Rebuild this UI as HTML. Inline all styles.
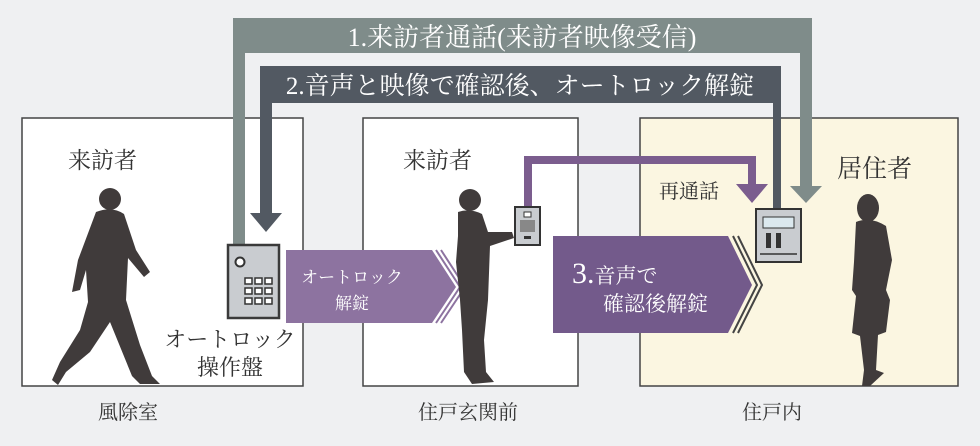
<!DOCTYPE html>
<html><head><meta charset="utf-8"><style>
html,body{margin:0;padding:0;background:#eff0f2;}
svg{display:block}
text{font-family:"Liberation Serif","Noto Serif CJK SC","Noto Sans CJK JP",serif;fill:#333;}
</style></head><body>
<svg width="980" height="446" viewBox="0 0 980 446" xmlns="http://www.w3.org/2000/svg">
<rect width="980" height="446" fill="#eff0f2"/>
<rect x="22" y="118" width="281" height="268" fill="#fff" stroke="#444" stroke-width="1.5"/>
<rect x="363" y="118" width="215" height="268" fill="#fff" stroke="#444" stroke-width="1.5"/>
<rect x="640" y="118" width="318" height="268" fill="#fbf6e1" stroke="#444" stroke-width="1.5"/>
<path d="M233 245 V18 H812 V188 H800 V30 H245 V245 Z" fill="#7f8c8a"/>
<rect x="233" y="18" width="579" height="35" fill="#7f8c8a"/>
<polygon points="790,186 822,186 806,203" fill="#7f8c8a"/>
<text x="522" y="46" font-size="26" text-anchor="middle" style="fill:#fff">1.来訪者通話(来訪者映像受信)</text>
<path d="M260 215 V66 H781 V209 H773 V103 H272 V215 Z" fill="#525962"/>
<rect x="260" y="66" width="521" height="37" fill="#525962"/>
<polygon points="250,213 282,213 266,232" fill="#525962"/>
<text x="520" y="94" font-size="25" text-anchor="middle" style="fill:#fff">2.音声と映像で確認後、オートロック解錠</text>
<path d="M524 207 V156 H756 V186 H748 V164 H532 V207 Z" fill="#7b5d8e"/>
<polygon points="736,184 768,184 752,203" fill="#7b5d8e"/>
<rect x="228" y="245" width="51" height="73" fill="#c9ccd0" stroke="#3a3a3a" stroke-width="2.5"/>
<circle cx="240" cy="262" r="4.5" fill="#fff" stroke="#333" stroke-width="2"/>
<g fill="#fff" stroke="#333" stroke-width="1.5">
<rect x="245" y="278" width="7" height="6"/><rect x="255" y="278" width="7" height="6"/><rect x="265" y="278" width="7" height="6"/>
<rect x="245" y="288" width="7" height="6"/><rect x="255" y="288" width="7" height="6"/><rect x="265" y="288" width="7" height="6"/>
<rect x="245" y="298" width="7" height="6"/><rect x="255" y="298" width="7" height="6"/><rect x="265" y="298" width="7" height="6"/>
</g>
<polygon points="286,250 432,250 456,287 432,323 286,323" fill="#8d73a0"/>
<polyline points="436,250 460,287 436,323" fill="none" stroke="#8d73a0" stroke-width="2"/>
<polyline points="441,250 465,287 441,323" fill="none" stroke="#8d73a0" stroke-width="2"/>
<text x="352" y="283" font-size="17" text-anchor="middle" style="fill:#fff">オートロック</text>
<text x="352" y="309" font-size="17" text-anchor="middle" style="fill:#fff">解錠</text>
<polygon points="553,236 728,236 752,285 728,333 553,333" fill="#735a8b"/>
<polyline points="733,236 757,285 733,333" fill="none" stroke="#444" stroke-width="2"/>
<polyline points="738,236 762,285 738,333" fill="none" stroke="#444" stroke-width="2"/>
<text x="572" y="283" font-size="30" style="fill:#fff">3.<tspan font-size="21">音声で</tspan></text>
<text x="603" y="311" font-size="21" style="fill:#fff">確認後解錠</text>
<rect x="515" y="207" width="25" height="38" fill="#c9ccd0" stroke="#333" stroke-width="2"/>
<rect x="524" y="212" width="7" height="5" fill="#fff" stroke="#333"/>
<rect x="520" y="220" width="15" height="12" fill="#888"/>
<rect x="524" y="236" width="7" height="3" fill="#333"/>
<rect x="756" y="209" width="45" height="53" fill="#c9ccd0" stroke="#333" stroke-width="2"/>
<rect x="763" y="217" width="31" height="11" fill="#dbe8ee" stroke="#333" stroke-width="1"/>
<rect x="766" y="233" width="5" height="15" fill="#333"/><rect x="776" y="233" width="5" height="15" fill="#333"/>
<line x1="760" y1="254" x2="797" y2="254" stroke="#333" stroke-width="1.5"/>
<g fill="#403b3b">
<circle cx="110" cy="199" r="11"/>
<path d="M96 212 Q112 206 124 214 L136 250 L150 272 L144 277 L128 258 L126 300 L140 345 L152 376 L160 384 L140 384 L132 376 L110 322 L90 352 L66 372 L58 385 L52 380 L60 362 L80 330 L88 302 L86 270 L80 290 L72 292 L78 260 Z"/>
<circle cx="470" cy="200" r="11"/>
<path d="M458 212 Q470 208 482 214 L488 232 L512 232 L514 238 L490 246 L488 300 L484 340 L486 372 L494 382 L472 384 L464 372 L462 330 L460 300 L456 262 L458 236 Z"/>
<ellipse cx="868" cy="208" rx="11" ry="14"/>
<path d="M856 222 Q870 216 886 226 L892 260 L886 290 L890 300 L886 332 L878 335 L876 370 L884 373 L870 386 L862 386 L864 370 L860 336 L852 333 L856 296 L852 290 L854 262 Z"/>
</g>
<text x="68" y="168" font-size="23">来訪者</text>
<text x="403" y="168" font-size="23">来訪者</text>
<text x="837" y="177" font-size="25">居住者</text>
<text x="659" y="198" font-size="20">再通話</text>
<text x="230" y="347" font-size="22" text-anchor="middle">オートロック</text>
<text x="230" y="375" font-size="22" text-anchor="middle">操作盤</text>
<text x="128" y="419" font-size="20" text-anchor="middle">風除室</text>
<text x="468" y="419" font-size="20" text-anchor="middle">住戸玄関前</text>
<text x="772" y="419" font-size="20" text-anchor="middle">住戸内</text>
</svg>
</body></html>
